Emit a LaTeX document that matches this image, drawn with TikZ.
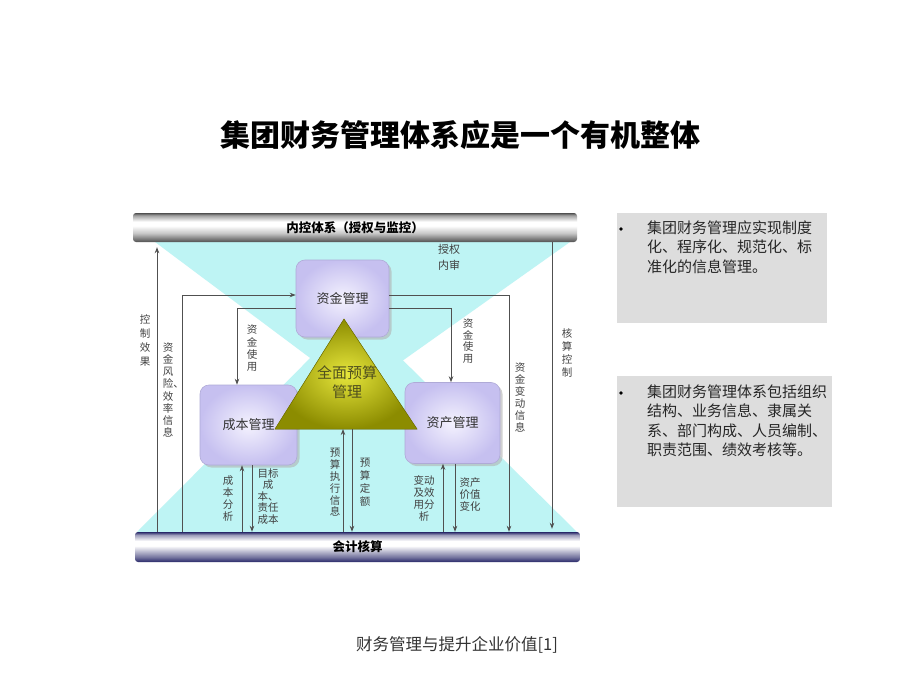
\documentclass[tikz,border=0pt]{standalone}
\usepackage{fontspec}
\setmainfont{Noto Sans CJK SC}
\usetikzlibrary{arrows.meta,shadows}
\definecolor{cyanbg}{RGB}{190,244,244}
\definecolor{barGray}{RGB}{80,80,80}
\definecolor{barNavy}{RGB}{40,40,105}
\definecolor{lav}{RGB}{198,192,240}
\definecolor{lavlight}{RGB}{244,242,254}
\definecolor{lavedge}{RGB}{175,170,215}
\definecolor{triDark}{RGB}{140,140,0}
\definecolor{triLight}{RGB}{230,230,60}
\definecolor{panelgray}{RGB}{221,221,221}
\definecolor{linegray}{RGB}{80,80,80}
\definecolor{labgray}{RGB}{65,65,65}
\pgfdeclareverticalshading{graybar}{100bp}{color(0bp)=(barGray); color(25bp)=(barGray); color(40bp)=(gray!45); color(53bp)=(white); color(60bp)=(white); color(71bp)=(gray!75); color(75bp)=(barGray); color(100bp)=(barGray)}
\pgfdeclareverticalshading{navybar}{100bp}{color(0bp)=(barNavy); color(25bp)=(barNavy); color(33bp)=(barNavy!65); color(52bp)=(white); color(60bp)=(white); color(70bp)=(barNavy!45); color(75bp)=(barNavy); color(100bp)=(barNavy)}
\tikzset{
  barbox/.style={rounded corners=3pt, inner sep=0pt, font=\fontsize{12.5}{14}\selectfont\bfseries, text=black},
  mgmtbox/.style={rounded corners=9pt, draw=lavedge, line width=0.6pt, inner color=lavlight, outer color=lav,
    drop shadow={shadow xshift=2.5pt, shadow yshift=-2.5pt, fill=gray!60, opacity=0.6},
    font=\fontsize{13}{15}\selectfont, text=black!80, inner sep=0pt},
  conn/.style={draw=linegray, line width=0.8pt},
  arr/.style={conn, -{Stealth[length=6pt,width=4.5pt]}},
  vlab/.style={font=\fontsize{10.5}{12.3}\selectfont, text=labgray, align=center, inner sep=0pt},
  paneltext/.style={font=\fontsize{15}{19.5}\selectfont, text=black!85, align=left, inner sep=0pt, anchor=north west},
  panelbox/.style={fill=panelgray, inner sep=0pt, anchor=north west},
  bulletdot/.style={circle, fill=black, inner sep=0pt, minimum size=3.8pt}
}
\begin{document}
\begin{tikzpicture}[x=1pt,y=-1pt]
\useasboundingbox (0,0) rectangle (920,690);
\fill[white] (0,0) rectangle (920,690);

% title
\node[font=\fontsize{30}{36}\selectfont\bfseries, text=black] (title) at (460,135) {集团财务管理体系应是一个有机整体};

% cyan hourglass background
\fill[cyanbg] (155,242) -- (570,242) -- (357,393) -- cycle;
\fill[cyanbg] (137,532) -- (577,532) -- (355,313) -- cycle;

% bars
\node[barbox, shading=graybar, minimum width=444pt, minimum height=29pt] (topbar) at (355,227.5) {内控体系（授权与监控）};
\node[barbox, shading=navybar, minimum width=445pt, minimum height=30pt] (botbar) at (357.5,547) {会计核算};

% management boxes
\node[mgmtbox, minimum width=93pt, minimum height=77pt] (zj) at (342.5,298.5) {资金管理};
\node[mgmtbox, minimum width=97pt, minimum height=80pt] (cb) at (248.5,425) {成本管理};
\node[mgmtbox, minimum width=95pt, minimum height=81pt] (zc) at (452.5,423) {资产管理};

% triangle
\coordinate (triT) at (344,319);
\coordinate (triL) at (275,429);
\coordinate (triR) at (417,429);
\fill[inner color=triLight, outer color=triDark] (triT) -- (triL) -- (triR) -- cycle;
\draw[draw=triDark!85!black, line width=0.5pt] (triT) -- (triL) -- (triR) -- cycle;
\node[font=\fontsize{15}{19}\selectfont, text={rgb,255:red,80;green,80;blue,30}, align=center, inner sep=0pt] (qm) at (347,382) {全面预算\\管理};

% connectors
\draw[arr, shorten >=5pt] (157,0 |- botbar.north) -- (157,0 |- topbar.south);
\draw[arr] (182,0 |- botbar.north) |- (zj.west |- 0,295);
\draw[arr] (zj.west |- 0,308) -| (237,0 |- cb.north);
\draw[arr] (zj.east |- 0,295) -| (509,0 |- botbar.north);
\draw[arr] (zj.east |- 0,308) -| (451,0 |- zc.north);
\draw[arr, shorten >=3pt] (552,0 |- topbar.south) -- (552,0 |- botbar.north);
\draw[arr] (242,0 |- botbar.north) -- (242,0 |- cb.south);
\draw[arr] (252,0 |- cb.south) -- (252,0 |- botbar.north);
\draw[arr] (343,0 |- botbar.north) -- (343,0 |- triL);
\draw[arr] (352,0 |- triL) -- (352,0 |- botbar.north);
\draw[arr] (443,0 |- botbar.north) -- (443,0 |- zc.south);
\draw[arr] (455,0 |- zc.south) -- (455,0 |- botbar.north);

% labels
\node[vlab, font=\fontsize{10.5}{14}\selectfont] (l1) at (145,341) {控\\制\\效\\果};
\node[vlab, font=\fontsize{10.5}{12.2}\selectfont] (l2) at (168,390) {资\\金\\风\\险\rlap{、}\\效\\率\\信\\息};
\node[vlab] (l3) at (252,348.5) {资\\金\\使\\用};
\node[vlab, font=\fontsize{10.5}{11.8}\selectfont] (l4) at (468,341) {资\\金\\使\\用};
\node[vlab, font=\fontsize{10.5}{12}\selectfont] (l5) at (520,397) {资\\金\\变\\动\\信\\息};
\node[vlab, font=\fontsize{10.5}{13}\selectfont] (l6) at (567,352.5) {核\\算\\控\\制};
\node[vlab] (l7) at (228,498.5) {成\\本\\分\\析};
\node[vlab, font=\fontsize{10.5}{11.5}\selectfont] (l8) at (268,496.5) {目标\\成\\本、\\责任\\成本};
\node[vlab, font=\fontsize{10.5}{11.8}\selectfont] (l9) at (335,482.5) {预\\算\\执\\行\\信\\息};
\node[vlab, font=\fontsize{10.5}{13}\selectfont] (l10) at (365,482.5) {预\\算\\定\\额};
\node[vlab] (l11) at (424,498.5) {变动\\及效\\用分\\析};
\node[vlab, font=\fontsize{10.5}{12}\selectfont] (l12) at (470,495) {资产\\价值\\变化};
\node[vlab, font=\fontsize{11}{16}\selectfont] (l13) at (449,257.5) {授权\\内审};

% right panels
\node[panelbox, minimum width=210pt, minimum height=110pt] (p1) at (617,213) {};
\node[panelbox, minimum width=215pt, minimum height=131pt] (p2) at (617,376) {};
\node[bulletdot] (b1) at (621,229) {};
\node[bulletdot] (b2) at (621,393) {};
\node[paneltext] (t1) at (647,220.5) {集团财务管理应实现制度\\化、程序化、规范化、标\\准化的信息管理。};
\node[paneltext] (t2) at (647,384.5) {集团财务管理体系包括组织\\结构、业务信息、隶属关\\系、部门构成、人员编制、\\职责范围、绩效考核等。};

% footer
\node[font=\fontsize{16.5}{20}\selectfont, text=black!80] (foot) at (457,645) {财务管理与提升企业价值[1]};
\end{tikzpicture}
\end{document}
